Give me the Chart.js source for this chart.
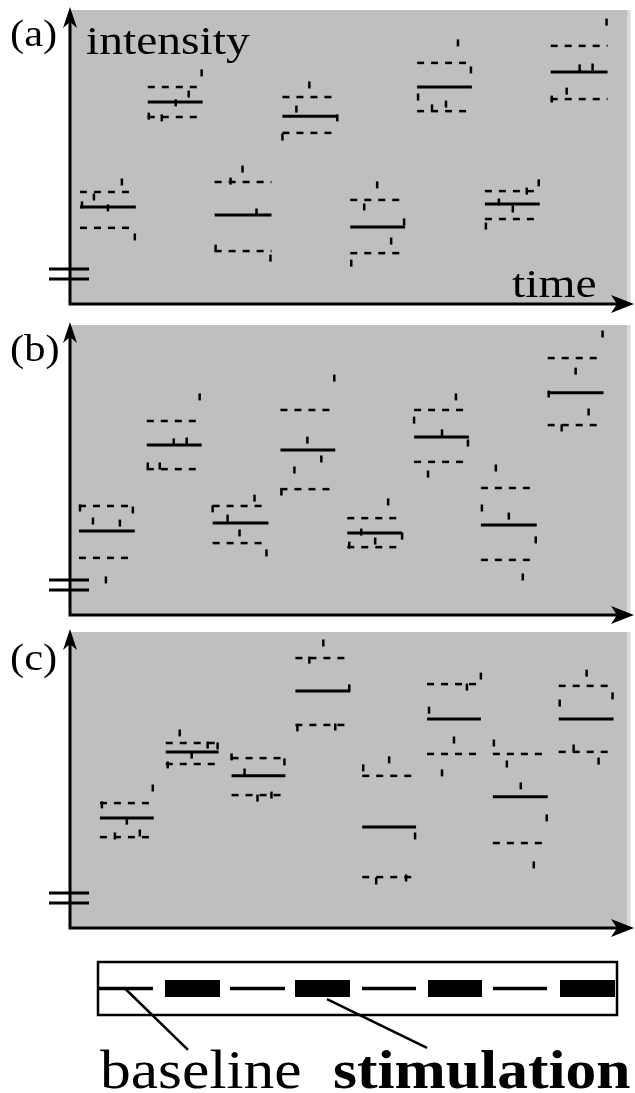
<!DOCTYPE html>
<html>
<head>
<meta charset="utf-8">
<script src="https://cdn.jsdelivr.net/npm/chart.js@4"></script>
<style>
html, body { margin: 0; padding: 0; background: #fff; }
#page { position: relative; width: 635px; height: 1093px; overflow: hidden;
        font-family: "Liberation Serif", "Times New Roman", serif; color: #000; }
canvas { position: absolute; left: 0; }
.lbl { position: absolute; white-space: nowrap; line-height: 1; transform-origin: 0 0; }
</style>
</head>
<body>
<div id="page">
  <canvas id="chartA" width="635" height="320" style="top:0;width:635px;height:320px"></canvas>
  <canvas id="chartB" width="635" height="315" style="top:315px;width:635px;height:315px"></canvas>
  <canvas id="chartC" width="635" height="320" style="top:622px;width:635px;height:320px"></canvas>
  <canvas id="chartLegend" width="635" height="120" style="top:940px;width:635px;height:120px"></canvas>

  <span class="lbl" style="left:10px;top:14px;font-size:38px;transform:scaleX(1.12)">(a)</span>
  <span class="lbl" style="left:86px;top:20px;font-size:41px;transform:scaleX(1.16)">intensity</span>
  <span class="lbl" style="left:512px;top:263px;font-size:41px;transform:scaleX(1.16)">time</span>
  <span class="lbl" style="left:10px;top:329px;font-size:38px;transform:scaleX(1.12)">(b)</span>
  <span class="lbl" style="left:10px;top:638px;font-size:38px;transform:scaleX(1.12)">(c)</span>
  <span class="lbl" style="left:100px;top:1043px;font-size:54px;transform:scaleX(1.14)">baseline</span>
  <span class="lbl" style="left:333px;top:1043px;font-size:54px;font-weight:bold;transform:scaleX(1.14)">stimulation</span>
</div>
<script>
// time axis 0..56, intensity axis 0..100

// panel (a)
const aStart = [1.0, 7.8, 14.5, 21.3, 28.1, 34.8, 41.6, 48.2];
const aEnd   = [6.6, 13.3, 20.2, 26.8, 33.6, 40.3, 47.1, 53.9];
const aMean  = [33.0, 68.7, 30.3, 63.9, 26.2, 73.8, 34.0, 78.9];
const aHigh  = [38.1, 73.8, 41.5, 70.4, 35.4, 82.0, 38.4, 87.8];
const aLow   = [25.9, 63.6, 18.0, 58.2, 17.3, 65.6, 28.9, 69.7];
const aDotT  = [5.2, 2.4, 3.8, 6.5, 1.2,  13.2, 11.9, 10.6, 7.9, 9.2,  17.3, 16.1, 18.7, 14.6, 20.1,
                24.0, 22.7, 26.8, 21.3,  30.8, 29.5, 33.5, 32.2, 28.2,  38.9, 40.2, 34.9, 37.7, 36.3,
                47.0, 45.8, 43.0, 44.4, 41.7,  53.8, 52.4, 51.1, 49.8, 48.3];
const aDotV  = [41.5, 36.4, 32.7, 22.8, 33.7,  78.6, 71.4, 68.4, 63.9, 63.3,  45.9, 41.8, 31.3, 19.0, 15.6,
                74.5, 66.3, 63.3, 56.8,  40.5, 33.0, 27.9, 21.4, 13.9,  88.8, 79.6, 70.4, 68.0, 66.7,
                41.2, 38.4, 34.7, 32.3, 26.5,  95.9, 80.6, 80.3, 72.4, 69.7];

// panel (b)
const bStart = [0.9, 7.7, 14.3, 21.1, 27.8, 34.5, 41.2, 47.9];
const bEnd   = [6.5, 13.2, 19.9, 26.6, 33.3, 40.0, 46.8, 53.5];
const bMean  = [29.0, 58.6, 31.7, 56.9, 28.3, 61.4, 31.0, 76.6];
const bHigh  = [37.6, 66.9, 37.6, 70.7, 33.4, 70.7, 43.8, 88.6];
const bLow   = [19.7, 50.3, 24.8, 43.4, 23.4, 52.8, 19.0, 65.5];
const bDotT  = [6.3, 2.3, 5.0, 3.6, 1.0,  13.0, 10.4, 11.7, 7.8, 9.0,  18.5, 15.8, 17.0, 19.7, 14.3,
                23.8, 22.5, 26.5, 25.2, 21.2,  31.9, 29.2, 30.6, 28.0, 33.3,  38.7, 34.5, 37.3, 39.9, 35.9,
                42.7, 41.3, 44.0, 46.7, 45.4,  53.4, 50.7, 48.0, 52.0, 49.3];
const bDotV  = [36.2, 32.4, 31.7, 12.1, 36.9,  75.2, 59.7, 60.0, 51.4, 51.4,  40.3, 33.4, 28.3, 21.4, 36.6,
                60.3, 50.0, 81.7, 53.8, 42.4,  39.0, 28.6, 25.5, 24.1, 27.2,  75.2, 67.2, 62.8, 59.3, 48.6,
                50.7, 36.9, 34.1, 25.9, 13.1,  96.9, 84.1, 76.2, 70.0, 64.5];

// panel (c)
const cStart = [3.0, 9.6, 16.2, 22.6, 29.3, 35.8, 42.4, 49.0];
const cEnd   = [8.4, 14.9, 21.6, 28.1, 34.7, 41.2, 47.9, 54.5];
const cMean  = [37.2, 59.5, 51.4, 80.1, 34.1, 70.6, 44.3, 70.6];
const cHigh  = [42.2, 62.5, 57.4, 91.2, 51.4, 82.4, 58.8, 81.8];
const cLow   = [30.7, 55.4, 44.9, 68.6, 17.2, 58.8, 28.7, 59.5];
const cDotT  = [8.3, 5.7, 3.2, 4.5, 7.0,  11.0, 12.2, 13.8, 14.8, 9.8,  21.5, 17.5, 16.2, 18.8, 20.2,
                25.4, 24.0, 28.0, 26.6, 22.8,  32.0, 29.4, 34.6, 30.7, 33.7,  41.2, 39.8, 36.0, 38.5, 37.3,
                42.5, 43.8, 45.2, 47.8, 46.5,  51.8, 54.4, 49.1, 50.5, 53.0];
const cDotV  = [47.3, 36.1, 41.6, 31.1, 32.1,  65.9, 58.4, 61.8, 61.5, 55.1,  56.1, 52.7, 57.8, 43.9, 44.9,
                96.3, 90.5, 81.1, 67.9, 67.6,  56.8, 54.1, 31.1, 15.9, 16.9,  85.1, 81.4, 73.6, 63.5, 52.4,
                62.5, 55.4, 48.0, 37.2, 21.3,  86.1, 78.4, 76.0, 60.8, 56.4];

// protocol strip
const baseStart = [0, 13.2, 26.4, 39.5];
const baseEnd   = [5.5, 18.7, 31.8, 44.9];
const stimStart = [6.7, 19.7, 33.0, 46.2];
const stimEnd   = [12.2, 25.2, 38.4, 51.7];
const leaderBase = [[2.7, 0.5], [9.0, -0.66]];
const leaderStim = [[22.9, 0.3], [32.9, -0.62]];

function seg(x1, x2, y1, y2, dash, width) {
    return {
        type: 'line',
        data: [{ x: x1, y: y1 }, { x: x2, y: y2 }],
        borderColor: '#000',
        borderWidth: width,
        borderDash: dash,
        borderCapStyle: 'butt',
        pointRadius: 0,
        fill: false,
        tension: 0,
        clip: false
    };
}

const axesPlugin = {
    id: 'axes',
    beforeDatasetsDraw(chart) {
        const { ctx, chartArea: a } = chart;
        ctx.save();
        ctx.fillStyle = '#bfbfbf';
        ctx.fillRect(a.left + 1, a.top, a.right - a.left - 2, a.bottom - a.top);
        ctx.fillStyle = '#d8d8d8';
        ctx.fillRect(a.right - 1, a.top, 3, a.bottom - a.top);
        ctx.restore();
    },
    afterDraw(chart) {
        const { ctx, chartArea: a } = chart;
        const x0 = a.left, y0 = a.bottom;
        const tipY = a.top - 3, tipX = 634;
        ctx.save();
        ctx.strokeStyle = '#000';
        ctx.fillStyle = '#000';
        ctx.lineWidth = 3;
        ctx.beginPath();
        ctx.moveTo(x0, y0 + 1.5);
        ctx.lineTo(x0, tipY + 12);
        ctx.moveTo(x0 - 1.5, y0);
        ctx.lineTo(tipX - 14, y0);
        ctx.stroke();
        // arrow heads
        ctx.beginPath();
        ctx.moveTo(x0, tipY);
        ctx.lineTo(x0 + 7, tipY + 21);
        ctx.lineTo(x0, tipY + 15);
        ctx.lineTo(x0 - 7, tipY + 21);
        ctx.closePath();
        ctx.fill();
        ctx.beginPath();
        ctx.moveTo(tipX, y0);
        ctx.lineTo(tipX - 23, y0 - 9);
        ctx.lineTo(tipX - 17, y0);
        ctx.lineTo(tipX - 23, y0 + 9);
        ctx.closePath();
        ctx.fill();
        // axis break
        ctx.beginPath();
        ctx.moveTo(49, y0 - 35);
        ctx.lineTo(89, y0 - 35);
        ctx.moveTo(49, y0 - 25);
        ctx.lineTo(89, y0 - 25);
        ctx.stroke();
        ctx.restore();
    }
};

function panelChart(id, start, end, mean, high, low, dotT, dotV, pad) {
    const datasets = [];
    start.forEach((s, i) => {
        datasets.push(seg(s, end[i], high[i], high[i], [7, 7], 2.5));
        datasets.push(seg(s, end[i], low[i], low[i], [7, 7], 2.5));
        datasets.push(seg(s, end[i], mean[i], mean[i], [], 3));
    });
    datasets.push({
        type: 'scatter',
        data: dotT.map((t, i) => ({ x: t, y: dotV[i] })),
        pointStyle: 'line',
        rotation: 90,
        pointRadius: 3.5,
        borderWidth: 2.5,
        borderColor: '#000',
        backgroundColor: '#000',
        showLine: false,
        clip: false
    });
    return new Chart(document.getElementById(id), {
        type: 'line',
        data: { datasets: datasets },
        options: {
            responsive: false,
            animation: false,
            devicePixelRatio: 1,
            events: [],
            layout: { padding: pad },
            plugins: { legend: { display: false }, tooltip: { enabled: false } },
            scales: {
                x: { type: 'linear', min: 0, max: 56, display: false },
                y: { type: 'linear', min: 0, max: 100, display: false }
            }
        },
        plugins: [axesPlugin]
    });
}

panelChart('chartA', aStart, aEnd, aMean, aHigh, aLow, aDotT, aDotV, { left: 70, right: 5, top: 10, bottom: 16 });
panelChart('chartB', bStart, bEnd, bMean, bHigh, bLow, bDotT, bDotV, { left: 70, right: 5, top: 10, bottom: 15 });
panelChart('chartC', cStart, cEnd, cMean, cHigh, cLow, cDotT, cDotV, { left: 70, right: 5, top: 10, bottom: 14 });

// protocol strip
const boxPlugin = {
    id: 'box',
    afterDraw(chart) {
        const { ctx, chartArea: a } = chart;
        ctx.save();
        ctx.strokeStyle = '#000';
        ctx.lineWidth = 2.5;
        ctx.strokeRect(a.left, a.top, a.right - a.left, a.bottom - a.top);
        ctx.restore();
    }
};

const legendSets = [];
baseStart.forEach((s, i) => legendSets.push(seg(s, baseEnd[i], 0.5, 0.5, [], 3.5)));
stimStart.forEach((s, i) => legendSets.push(seg(s, stimEnd[i], 0.5, 0.5, [], 17)));
legendSets.push(seg(leaderBase[0][0], leaderBase[1][0], leaderBase[0][1], leaderBase[1][1], [], 2.5));
legendSets.push(seg(leaderStim[0][0], leaderStim[1][0], leaderStim[0][1], leaderStim[1][1], [], 2.5));

new Chart(document.getElementById('chartLegend'), {
    type: 'line',
    data: { datasets: legendSets },
    options: {
        responsive: false,
        animation: false,
        devicePixelRatio: 1,
        events: [],
        layout: { padding: { left: 98, right: 18, top: 22, bottom: 45 } },
        plugins: { legend: { display: false }, tooltip: { enabled: false } },
        scales: {
            x: { type: 'linear', min: 0, max: 51.9, display: false },
            y: { type: 'linear', min: 0, max: 1, display: false }
        }
    },
    plugins: [boxPlugin]
});
</script>
</body>
</html>
